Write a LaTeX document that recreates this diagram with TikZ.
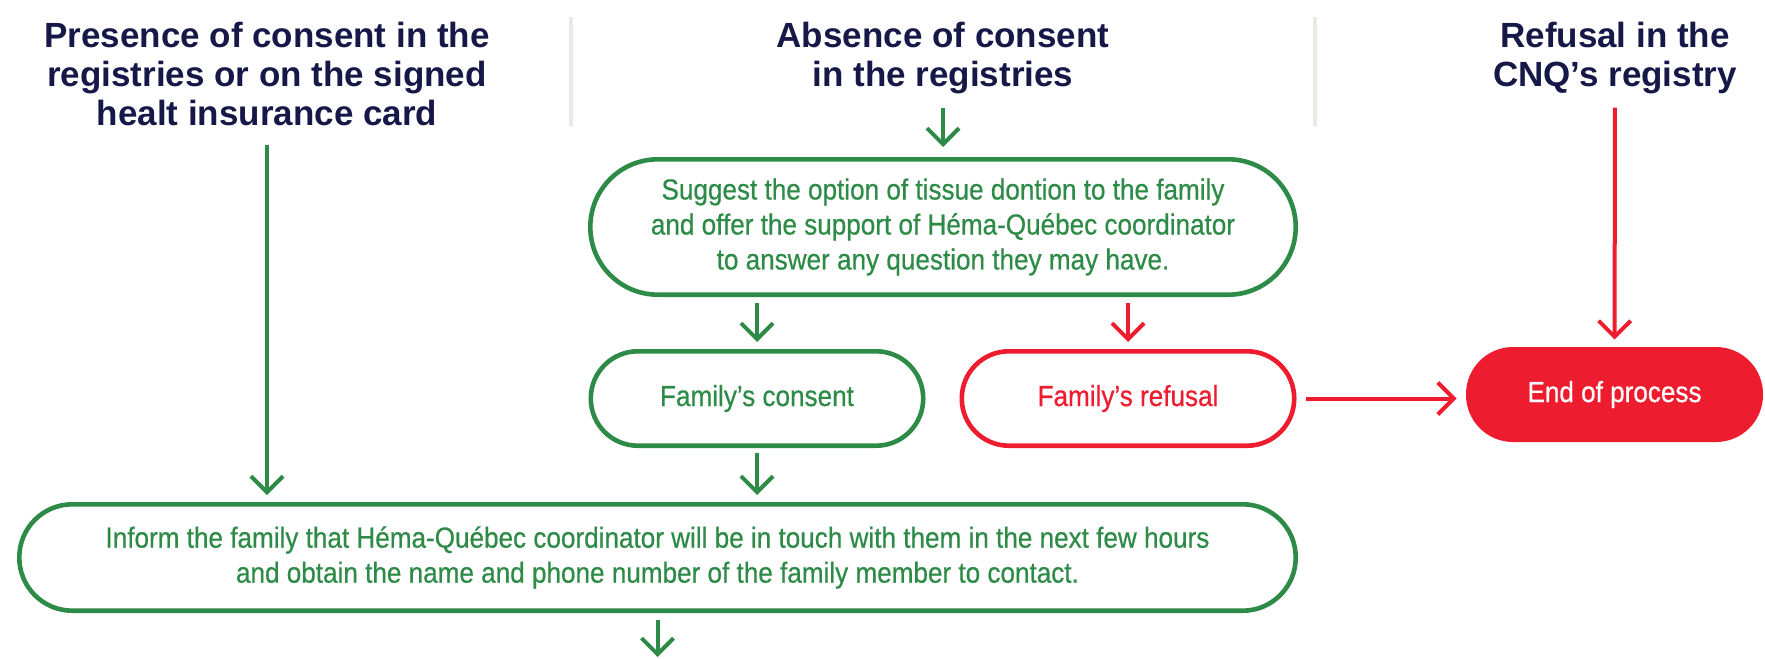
\documentclass[tikz,border=0pt]{standalone}
\usepackage{fontspec}
\setsansfont{Liberation Sans}
\newfontfamily\narrowfont{Liberation Sans}[FakeStretch=0.9, FakeBold=0.6]
\usetikzlibrary{arrows.meta}
\definecolor{qgreen}{RGB}{46,139,71}
\definecolor{qred}{RGB}{237,28,46}
\definecolor{qnavy}{RGB}{22,24,72}
\definecolor{qsep}{RGB}{228,235,227}

\begin{document}
\begin{tikzpicture}[x = 0.5pt, y = -0.5pt, font=\sffamily]
	\tikzstyle{headStyle} = [inner sep = 0pt, anchor = north, align = center, text = qnavy, font = \sffamily\bfseries\fontsize{17.5}{19.5}\selectfont]
	\tikzstyle{sepStyle} = [draw = qsep, line width = 2.2pt]
	\tikzstyle{greenBox} = [draw = qgreen, line width = 2.3pt, text = qgreen, align = center, font = \narrowfont\fontsize{14.5}{17.5}\selectfont]
	\tikzstyle{redBox} = [draw = qred, line width = 2.3pt, text = qred, align = center, font = \narrowfont\fontsize{14.5}{17.5}\selectfont]
	\tikzstyle{endBox} = [fill = qred, text = white, align = center, font = \narrowfont\fontsize{14.5}{17.5}\selectfont]
	\tikzstyle{greenArrow} = [draw = qgreen, line width = 2pt, -{Straight Barb[length = 8pt, width = 16pt]}]
	\tikzstyle{redArrow} = [draw = qred, line width = 2pt, -{Straight Barb[length = 8pt, width = 16pt]}]
	\useasboundingbox (0, 0) rectangle (1765, 658);
	\draw[sepStyle] (571, 17) -- (571, 126);
	\draw[sepStyle] (1315, 17) -- (1315, 126);
	\node[headStyle] (presence) at (267, 22) {Presence of consent in the\\registries or on the signed\\healt insurance card};
	\node[headStyle] (absence) at (943, 22) {Absence of consent\\in the registries};
	\node[headStyle] (cnq) at (1615, 22) {Refusal in the\\CNQ’s registry};
	\node[greenBox, minimum width = 352.7pt, minimum height = 67.7pt, rounded corners = 33.8pt] (suggest) at (943, 227) {Suggest the option of tissue dontion to the family\\and offer the support of Héma-Québec coordinator\\to answer any question they may have.};
	\node[greenBox, minimum width = 166.2pt, minimum height = 47.2pt, rounded corners = 23.5pt] (consent) at (757, 398.5) {Family’s consent};
	\node[redBox, minimum width = 166.2pt, minimum height = 47.2pt, rounded corners = 23.5pt] (famrefusal) at (1128, 398.5) {Family’s refusal};
	\node[endBox, minimum width = 148.5pt, minimum height = 47.5pt, rounded corners = 23.5pt] (endproc) at (1614.5, 394.5) {End of process};
	\node[greenBox, minimum width = 638.2pt, minimum height = 53.2pt, rounded corners = 26.5pt] (inform) at (657.5, 557.5) {Inform the family that Héma-Québec coordinator will be in touch with them in the next few hours\\and obtain the name and phone number of the family member to contact.};
	\coordinate (next) at (657.5, 657);
	\draw[greenArrow, shorten <= 9pt, shorten >= 3.5pt] (presence) -- (presence |- inform.north);
	\draw[greenArrow, shorten <= 6.5pt, shorten >= 5pt] (absence) -- (suggest);
	\draw[greenArrow, shorten <= 3pt, shorten >= 3.5pt] (suggest.south -| consent.north) -- (consent);
	\draw[redArrow, shorten <= 3pt, shorten >= 3.5pt] (suggest.south -| famrefusal.north) -- (famrefusal);
	\draw[greenArrow, shorten <= 2.5pt, shorten >= 3.5pt] (consent) -- (consent |- inform.north);
	\draw[redArrow, shorten <= 6.5pt, shorten >= 3.5pt] (cnq) -- (endproc);
	\draw[redArrow, shorten <= 4.5pt, shorten >= 4.5pt] (famrefusal) -- (famrefusal -| endproc.west);
	\draw[greenArrow, shorten <= 3.5pt] (inform) -- (next);
\end{tikzpicture}
\end{document}
